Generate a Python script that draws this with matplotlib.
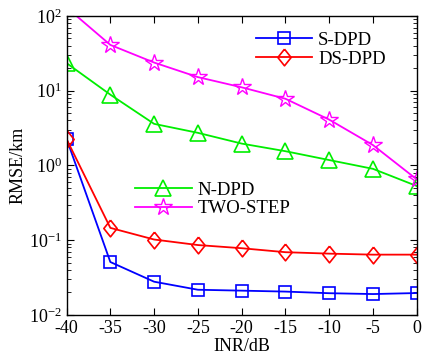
import matplotlib
matplotlib.use("Agg")
import matplotlib.pyplot as plt
from matplotlib.ticker import LogLocator, NullFormatter

plt.rcParams['font.family'] = ['Liberation Serif', 'DejaVu Serif']
plt.rcParams['mathtext.fontset'] = 'custom'
plt.rcParams['mathtext.rm'] = 'Liberation Serif'

inr = [-40, -35, -30, -25, -20, -15, -10, -5, 0]
s_dpd = [2.27, 0.051, 0.0278, 0.0217, 0.0211, 0.0205, 0.0195, 0.019, 0.0196]
ds_dpd = [2.25, 0.146, 0.102, 0.086, 0.078, 0.069, 0.066, 0.064, 0.064]
n_dpd = [23.4, 8.85, 3.6, 2.73, 1.96, 1.55, 1.18, 0.90, 0.53]
two_step = [130, 41, 23.8, 15.2, 11.1, 7.8, 4.1, 1.87, 0.65]

diamond = [(0, 1), (0.8, 0), (0, -1), (-0.8, 0), (0, 1)]

fig = plt.figure(figsize=(4.24, 3.55), dpi=100)
ax = fig.add_axes([0.157, 0.113, 0.826, 0.842])

lw = 1.3
l1, = ax.plot(inr, s_dpd, '-s', color='#0000ff', mfc='none', ms=9, lw=lw, mew=1.2, label='S-DPD')
l2, = ax.plot(inr, ds_dpd, '-', marker=diamond, color='#ff0000', mfc='none', ms=12, lw=lw, mew=1.2, label='DS-DPD')
l3, = ax.plot(inr, n_dpd, '-^', color='#00ee00', mfc='none', ms=11, lw=lw, mew=1.2, label='N-DPD')
l4, = ax.plot(inr, two_step, '-*', color='#ff00ff', mfc='none', ms=13, lw=lw, mew=1.0, label='TWO-STEP')

ax.set_yscale('log')
ax.set_xlim(-40, 0)
ax.set_ylim(1e-2, 1e2)
ax.set_xticks(inr)
ax.set_xticklabels([str(v) for v in inr])
ax.set_yticks([1e-2, 1e-1, 1e0, 1e1, 1e2])
ax.set_yticklabels([r'$\mathregular{10^{-2}}$', r'$\mathregular{10^{-1}}$', r'$\mathregular{10^{0}}$',
                    r'$\mathregular{10^{1}}$', r'$\mathregular{10^{2}}$'])
ax.yaxis.set_minor_locator(LogLocator(base=10, subs=range(2, 10)))
ax.yaxis.set_minor_formatter(NullFormatter())
ax.tick_params(which='both', direction='in', top=True, right=True, labelsize=13)
ax.tick_params(which='major', length=5)
ax.tick_params(which='minor', length=3)
for s in ax.spines.values():
    s.set_linewidth(1.0)

ax.set_xlabel('INR/dB', fontsize=13, labelpad=1)
ax.set_ylabel('RMSE/km', fontsize=13, labelpad=2)

leg1 = ax.legend(handles=[l1, l2], loc='upper left', bbox_to_anchor=(0.52, 0.972), frameon=False,
                 fontsize=13.5, handlelength=3.0, handletextpad=0.3, borderaxespad=0, labelspacing=0.1)
ax.add_artist(leg1)
ax.legend(handles=[l3, l4], loc='upper left', bbox_to_anchor=(0.175, 0.47), frameon=False,
          fontsize=13.5, handlelength=3.0, handletextpad=0.3, borderaxespad=0, labelspacing=0.05)

fig.savefig('out.png', dpi=100)
